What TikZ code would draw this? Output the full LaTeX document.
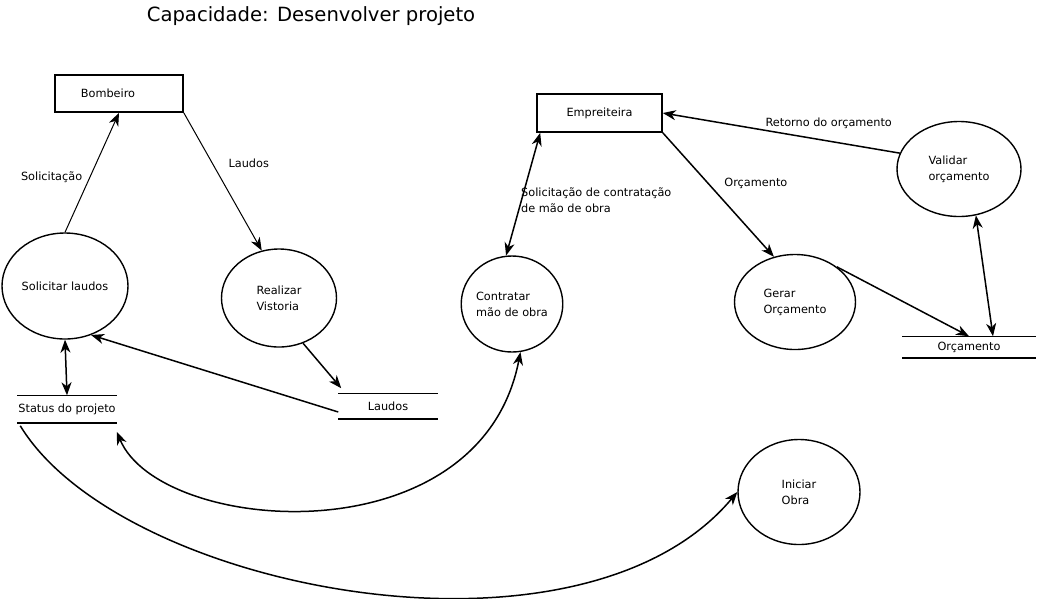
\documentclass[tikz,border=0pt]{standalone}
\usepackage{fontspec}
\setmainfont{DejaVu Sans}
\usetikzlibrary{arrows.meta,shapes.geometric}

\begin{document}
\begin{tikzpicture}[->,>={Stealth[length=13pt,width=10pt,inset=4pt]},x=1pt,y=-1pt,line width=1.5pt,font=\fontsize{11.3}{16}\selectfont]
\tikzstyle{processo}=[ellipse,draw=black,line width=1.4pt,align=left,inner sep=0pt]
\tikzstyle{entidade}=[rectangle,draw=black,line width=1.6pt,minimum width=128pt,minimum height=37pt]
\tikzstyle{deposito}=[minimum width=98pt,minimum height=26pt,inner sep=0pt]
\tikzstyle{fino}=[line width=1pt]
\useasboundingbox (0,0) rectangle (1040,598);

\node (titulo) at (311,16) {\fontsize{19.6}{22}\selectfont Capacidade: Desenvolver projeto};

% entidades externas
\node[entidade] (bombeiro) at (119,93.5) {\hspace*{-22pt}Bombeiro};
\node[entidade,minimum width=125pt,minimum height=38pt] (empreiteira) at (599.5,113) {Empreiteira};

% processos
\node[processo,minimum width=126pt,minimum height=106pt] (solicitar) at (65,286) {Solicitar laudos};
\node[processo,minimum width=115pt,minimum height=98pt]  (vistoria)  at (279,298) {Realizar\\Vistoria};
\node[processo,minimum width=101pt,minimum height=96pt]  (contratar) at (512,304) {Contratar\\mão de obra};
\node[processo,minimum width=121pt,minimum height=95pt]  (gerar)     at (795,302) {Gerar\\Orçamento};
\node[processo,minimum width=124pt,minimum height=95pt]  (validar)   at (959,169) {Validar\\orçamento};
\node[processo,minimum width=122pt,minimum height=105pt] (iniciar)   at (799,492) {Iniciar\\Obra};

% depositos de dados
\node[deposito] (status) at (67,409) {Status do projeto};
\node[deposito,minimum height=24pt] (laudos) at (388,406) {Laudos};
\node[deposito,minimum width=132pt,minimum height=20pt] (orcamento) at (969,347) {Orçamento};
\foreach \d in {status,laudos,orcamento}
  \draw[-] (\d.north west) -- (\d.north east) (\d.south west) -- (\d.south east);

% fluxos
\draw[fino] (solicitar.north) -- node[midway,left=6pt,yshift=-5pt] {Solicitação} (bombeiro.south);
\draw[fino] (bombeiro.south east) -- node[midway,above right=2pt,yshift=8pt] {Laudos} (vistoria.110);
\draw (vistoria.-62) -- ([xshift=3pt,yshift=5pt]laudos.north west);
\draw ([yshift=-6pt]laudos.west) -- (solicitar.-62);
\draw[<->] (solicitar.south) -- (status.north);
\draw[<->] ([yshift=-9pt]status.south east) .. controls (160,535) and (480,560) .. (contratar.-80);
\draw ([xshift=3pt,yshift=-3pt]status.south west) .. controls (120,590) and (580,680) .. (iniciar.west);
\draw[<->] ([xshift=4pt]empreiteira.south west) -- node[midway,anchor=west,align=left,xshift=-6pt,yshift=-6pt] {Solicitação de contratação\\de mão de obra} (contratar.97);
\draw (empreiteira.south east) -- node[midway,above right=2pt] {Orçamento} (gerar.115);
\draw (validar.165) -- node[pos=.3,above=8pt] {Retorno do orçamento} (empreiteira.east);
\draw (gerar.40) -- (orcamento.north);
\draw[<->] (validar.-70) -- ([xshift=24pt]orcamento.north);
\end{tikzpicture}
\end{document}
